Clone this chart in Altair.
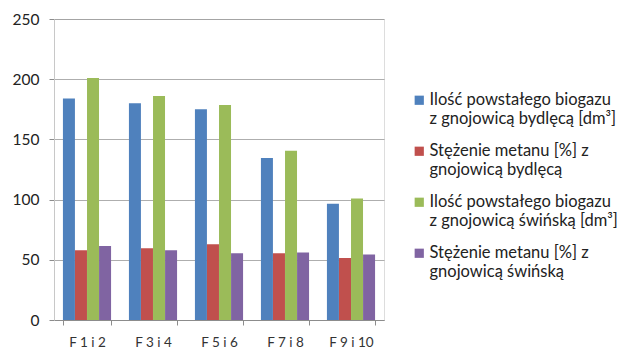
import altair as alt
import pandas as pd

groups = ["F 1 i 2", "F 3 i 4", "F 5 i 6", "F 7 i 8", "F 9 i 10"]
series = [
    "Ilość powstałego biogazu|z gnojowicą bydlęcą [dm³]",
    "Stężenie metanu [%] z|gnojowicą bydlęcą",
    "Ilość powstałego biogazu|z gnojowicą świńską [dm³]",
    "Stężenie metanu [%] z|gnojowicą świńską",
]
colors = ["#4F81BD", "#C0504D", "#9BBB59", "#8064A2"]

biogas_cattle = [184, 180, 175, 134.5, 96.5]
methane_cattle = [58, 59.5, 63, 55.5, 51.5]
biogas_pig = [201, 186, 178.5, 140.5, 101]
methane_pig = [61.5, 58, 55.5, 56, 54.5]

rows = []
for s, vals in zip(series, [biogas_cattle, methane_cattle, biogas_pig, methane_pig]):
    for g, v in zip(groups, vals):
        rows.append({"grupa": g, "seria": s, "wartosc": v})
df = pd.DataFrame(rows)

font = "Lato"
grey = "#8c8c8c"

chart = (
    alt.Chart(df)
    .mark_bar(size=12)
    .encode(
        x=alt.X(
            "grupa:N",
            sort=groups,
            title=None,
            scale=alt.Scale(paddingInner=0.27, paddingOuter=0.135),
            axis=alt.Axis(
                labelAngle=0,
                labelFont=font,
                labelFontSize=13.5,
                labelColor="#333333",
                labelPadding=10,
                domainColor=grey,
                tickColor=grey,
                tickSize=5,
                tickBand="extent",
                grid=False,
            ),
        ),
        xOffset=alt.XOffset("seria:N", sort=series),
        y=alt.Y(
            "wartosc:Q",
            title=None,
            scale=alt.Scale(domain=[0, 250]),
            axis=alt.Axis(
                values=[0, 50, 100, 150, 200, 250],
                labelFont=font,
                labelFontSize=15.5,
                labelColor="#222222",
                labelPadding=10,
                domainColor="#c8c8c8",
                tickColor=grey,
                tickSize=5,
                gridColor=grey,
                gridOpacity=0.7,
            ),
        ),
        color=alt.Color(
            "seria:N",
            sort=series,
            scale=alt.Scale(domain=series, range=colors),
            legend=alt.Legend(
                title=None,
                orient="none",
                legendX=357,
                legendY=73,
                symbolType="square",
                symbolSize=85,
                symbolStrokeWidth=0,
                labelFont=font,
                labelFontSize=16.5,
                labelColor="#222222",
                labelLimit=300,
                labelExpr="split(datum.label, '|')",
                rowPadding=15,
                labelOffset=2,
            ),
        ),
    )
    .properties(
        width=330,
        height=301,
        autosize=alt.AutoSizeParams(type="none"),
        padding={"left": 54, "top": 19, "right": 236, "bottom": 36},
    )
    .configure_view(stroke=None)
    .configure(background="white")
)

chart.save("out.html", embed_options={"renderer": "svg", "actions": False})
